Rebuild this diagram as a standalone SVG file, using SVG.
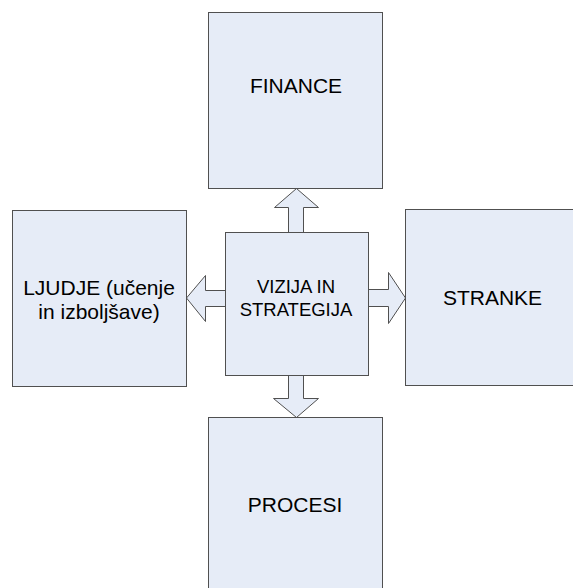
<svg xmlns="http://www.w3.org/2000/svg" width="573" height="588" viewBox="0 0 573 588">
  <style>
    .box { fill: #E6ECF7; stroke: #505050; stroke-width: 1; }
    .arrow { fill: #E6ECF7; stroke: #505050; stroke-width: 1; stroke-linejoin: miter; }
    .lbl { font-family: "Liberation Sans", Arial, sans-serif; font-size: 21px; fill: #000; text-anchor: middle; }
    .lbl-sm { font-family: "Liberation Sans", Arial, sans-serif; font-size: 18.5px; fill: #000; text-anchor: middle; }
  </style>
  <rect width="573" height="588" fill="#ffffff"/>

  <g id="connectors">
    <!-- up: centre to FINANCE -->
    <polygon class="arrow" points="288.5,232.5 288.5,207.5 274.5,207.5 296.5,188.5 318.5,207.5 303.5,207.5 303.5,232.5"/>
    <!-- down: centre to PROCESI -->
    <polygon class="arrow" points="288.5,375.5 288.5,398.5 273.5,398.5 296.5,417.5 318.5,398.5 303.5,398.5 303.5,375.5"/>
    <!-- right: centre to STRANKE -->
    <polygon class="arrow" points="368.5,289.5 388.5,289.5 388.5,272.5 405.5,298 388.5,323.5 388.5,306.5 368.5,306.5"/>
    <!-- left: centre to LJUDJE -->
    <polygon class="arrow" points="225.5,290.5 205.5,290.5 205.5,275.5 186.5,298 205.5,321.5 205.5,306.5 225.5,306.5"/>
  </g>

  <g id="finance">
    <rect class="box" x="208.5" y="12.5" width="174" height="176"/>
    <text class="lbl" x="296" y="93">FINANCE</text>
  </g>

  <g id="vizija">
    <rect class="box" x="225.5" y="232.5" width="143" height="143"/>
    <text class="lbl-sm" x="296" y="292.5">VIZIJA IN</text>
    <text class="lbl-sm" x="296" y="315.5">STRATEGIJA</text>
  </g>

  <g id="ljudje">
    <rect class="box" x="12.5" y="210.5" width="174" height="176"/>
    <text class="lbl" x="99" y="295">LJUDJE (učenje</text>
    <text class="lbl" x="99" y="319">in izboljšave)</text>
  </g>

  <g id="stranke">
    <rect class="box" x="405.5" y="209.5" width="174" height="176"/>
    <text class="lbl" x="492.5" y="305">STRANKE</text>
  </g>

  <g id="procesi">
    <rect class="box" x="208.5" y="417.5" width="174" height="176"/>
    <text class="lbl" x="295" y="511.5">PROCESI</text>
  </g>
</svg>
